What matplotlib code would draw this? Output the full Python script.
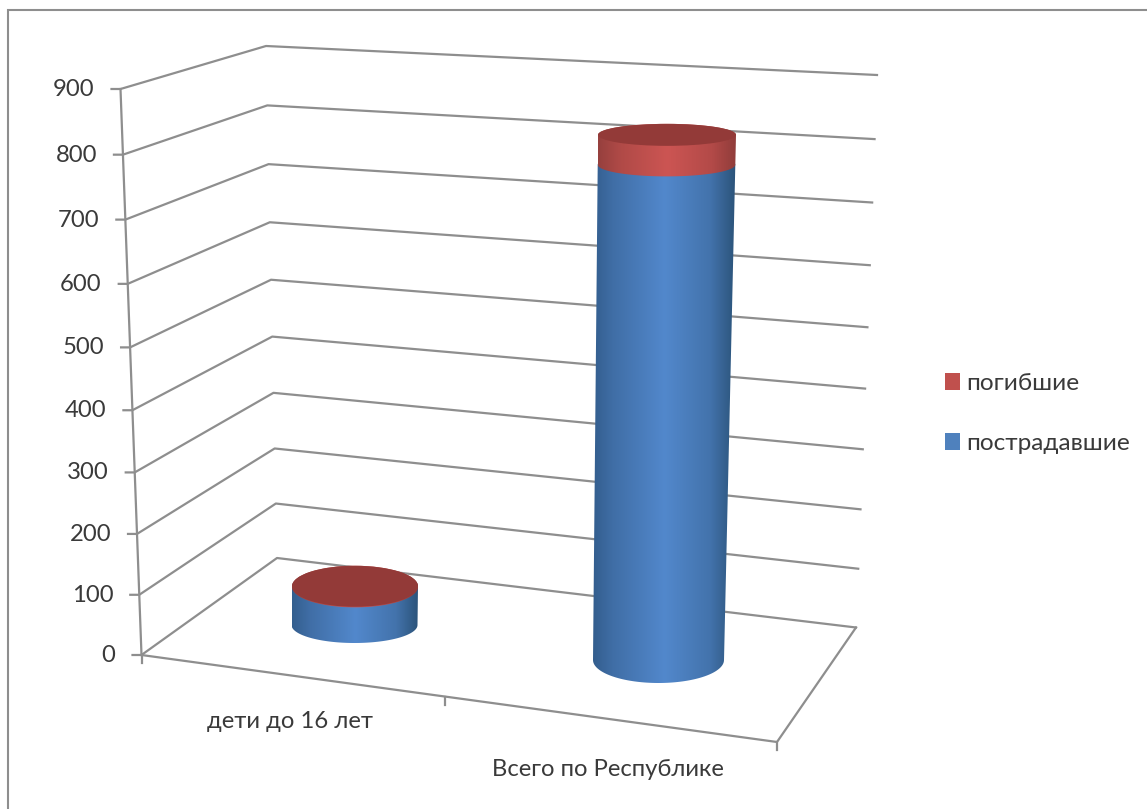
import numpy as np
import matplotlib
matplotlib.use('Agg')
import matplotlib.pyplot as plt
from matplotlib.colors import LinearSegmentedColormap
from matplotlib.patches import Patch, Polygon, Ellipse, Rectangle

plt.rcParams['font.family'] = ['Lato', 'DejaVu Sans']

categories = ['дети до 16 лет', 'Всего по Республике']
injured = [60, 780]
killed = [1, 47]
series_names = ['погибшие', 'пострадавшие']
y_ticks = [0, 100, 200, 300, 400, 500, 600, 700, 800, 900]

GRID = '#8e8e8e'
TEXT = '#3a3a3a'
RED = '#c0504d'
BLUE = '#4f81bd'
TOP_RED = '#933a38'

# corners of the 3d box in pixels: (value 0, value 900)
front_left = ((141.5, 655), (120.5, 89))
back_left = ((277, 558), (266, 46))
back_right = ((856, 627.5), (877, 75))
front_right = (777, 742)

# cylinder geometry: base ellipse (cx, cy, rx, ry), top ellipse (cx, rx, ry)
cyl_bottom = [(354.5, 625, 63, 18), (658.5, 660, 65.5, 23)]
cyl_top = [(355, 63, 20.5), (667, 69, 11)]
px_per_unit = 0.635

blue_cmap = LinearSegmentedColormap.from_list(
    'b', [(0, '#335e8e'), (0.14, '#406ea6'), (0.5, '#5288cc'), (0.82, '#4373ac'), (1, '#2b5379')])
red_cmap = LinearSegmentedColormap.from_list(
    'r', [(0, '#96403e'), (0.16, '#b04a47'), (0.5, '#cc5553'), (0.82, '#b34a48'), (1, '#8f3c3a')])


def scale(value):
    # slight perspective, upper values are spaced wider
    t = value / 900
    return t / (t + 1.05 * (1 - t))


def project(corner, value):
    s = scale(value)
    return (corner[0][0] + s * (corner[1][0] - corner[0][0]),
            corner[0][1] + s * (corner[1][1] - corner[0][1]))


def ellipse_at(idx, value, total):
    bx, by, brx, bry = cyl_bottom[idx]
    tx, trx, tr_y = cyl_top[idx]
    f = value / total
    return (bx + f * (tx - bx), by - value * px_per_unit, brx + f * (trx - brx), bry + f * (tr_y - bry))


def draw_side(ax, low, high, cmap):
    theta = np.linspace(0, np.pi, 80)
    lower = np.c_[low[0] - low[2] * np.cos(theta), low[1] + low[3] * np.sin(theta)]
    upper = np.c_[high[0] + high[2] * np.cos(theta), high[1] - high[3] * np.sin(theta)]
    poly = Polygon(np.r_[lower, upper], closed=True, fc='none', ec='none')
    ax.add_patch(poly)
    x0 = min(low[0] - low[2], high[0] - high[2])
    x1 = max(low[0] + low[2], high[0] + high[2])
    y0 = high[1] - high[3] - 2
    y1 = low[1] + low[3] + 2
    im = ax.imshow(np.linspace(0, 1, 256)[None, :], cmap=cmap, extent=(x0, x1, y1, y0),
                   aspect='auto', interpolation='bilinear', zorder=3)
    im.set_clip_path(poly)


fig = plt.figure(figsize=(11.47, 8.09), dpi=100)
ax = fig.add_axes([0, 0, 1, 1])

# outer frame
ax.add_patch(Rectangle((7.5, 10), 1200, 900, fc='white', ec=GRID, lw=1.5, zorder=0))

# gridlines and value axis
for v in y_ticks:
    fl, bl, br = project(front_left, v), project(back_left, v), project(back_right, v)
    ax.plot([fl[0] - 9, fl[0], bl[0], br[0]], [fl[1], fl[1], bl[1], br[1]],
            color=GRID, lw=1.6, zorder=1, solid_joinstyle='round')
    ax.text(fl[0] - 26, fl[1] + 0.5, str(v), ha='right', va='center', fontsize=17.2, color=TEXT)

fl0, fl900 = project(front_left, 0), project(front_left, 900)
ax.plot([fl0[0], fl900[0]], [fl0[1], fl900[1]], color=GRID, lw=1.6, zorder=1)

# floor and category ticks
br0 = project(back_right, 0)
ax.plot([fl0[0], front_right[0], br0[0]], [fl0[1], front_right[1], br0[1]],
        color=GRID, lw=1.6, zorder=1)
for frac in [0, 0.478, 1]:
    tx = fl0[0] + frac * (front_right[0] - fl0[0])
    ty = fl0[1] + frac * (front_right[1] - fl0[1])
    ax.plot([tx, tx], [ty, ty + 8], color=GRID, lw=1.6, zorder=1)

ax.text(290, 721.5, categories[0], ha='center', va='center', fontsize=17.2, color=TEXT)
ax.text(607.5, 769.5, categories[1], ha='center', va='center', fontsize=17.2, color=TEXT)

# cylinders
for i, (hurt, dead) in enumerate(zip(injured, killed)):
    total = hurt + dead
    base = ellipse_at(i, 0, total)
    mid = ellipse_at(i, hurt, total)
    top = ellipse_at(i, total, total)
    draw_side(ax, base, mid, blue_cmap)
    draw_side(ax, mid, top, red_cmap)
    ax.add_patch(Ellipse(top[:2], 2 * top[2], 2 * top[3], fc=TOP_RED, ec='none', zorder=4))

handles = [Patch(fc=RED, ec='none'), Patch(fc=BLUE, ec='none')]
ax.legend(handles, series_names, loc='center left', bbox_to_anchor=(938 / 1147, 1 - 413.5 / 809),
          frameon=False, fontsize=17.6, labelcolor=TEXT, handlelength=0.6, handleheight=0.65,
          handletextpad=0.26, labelspacing=1.6, borderaxespad=0, borderpad=0.3)

ax.set_xlim(0, 1147)
ax.set_ylim(809, 0)
ax.axis('off')
fig.savefig('out.png', dpi=100, facecolor='white')
